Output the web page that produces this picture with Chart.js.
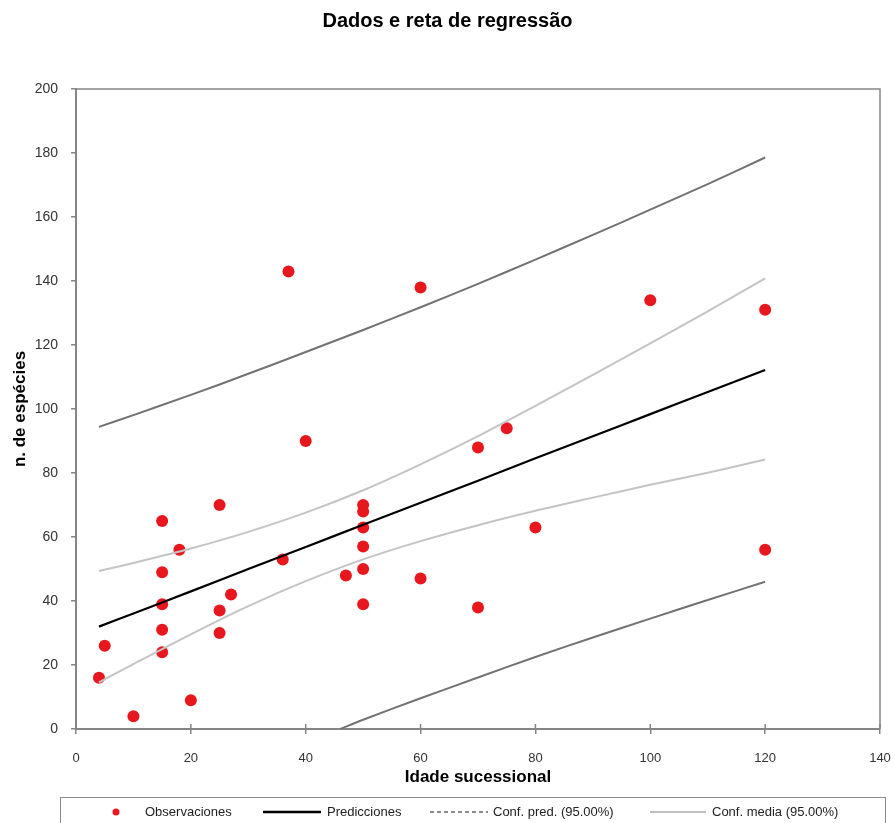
<!DOCTYPE html>
<html>
<head>
<meta charset="utf-8">
<script src="https://cdn.jsdelivr.net/npm/chart.js@4.4.1/dist/chart.umd.min.js"></script>
<style>
  html, body { margin: 0; padding: 0; background: #ffffff; }
  #wrap { width: 895px; height: 823px; position: relative; }
</style>
</head>
<body>
<div id="wrap"><canvas id="c"></canvas></div>
<script>
// ---- Data ----
const obsX = [4, 5, 10, 15, 15, 15, 15, 15, 18, 20, 25, 25, 25, 27, 36, 37, 40, 47, 50, 50, 50, 50, 50, 50, 60, 60, 70, 70, 75, 80, 100, 120, 120];
const obsY = [16, 26, 4, 65, 49, 39, 31, 24, 56, 9, 70, 37, 30, 42, 53, 143, 90, 48, 70, 68, 63, 57, 50, 39, 138, 47, 88, 38, 94, 63, 134, 131, 56];

const fitX       = [4, 10, 20, 30, 40, 50, 60, 70, 80, 90, 100, 110, 120];
const predLine   = [32.0, 36.1, 43.0, 50.0, 56.9, 63.8, 70.7, 77.6, 84.6, 91.5, 98.4, 105.3, 112.2];
const predUpper  = [94.4, 98.1, 104.4, 111.0, 117.8, 124.7, 131.8, 139.1, 146.7, 154.4, 162.3, 170.3, 178.6];
const meanUpper  = [49.4, 51.9, 56.4, 61.6, 67.6, 74.6, 82.7, 91.5, 101.0, 110.7, 120.5, 130.5, 140.8];
const meanLower  = [14.6, 20.3, 29.6, 38.4, 46.2, 53.0, 58.7, 63.7, 68.2, 72.3, 76.3, 80.1, 84.2];
const predLowerX = [46, 50, 60, 70, 80, 90, 100, 110, 120];
const predLower  = [0, 2.9, 9.6, 16.1, 22.5, 28.6, 34.5, 40.3, 46.0];

const xTicks = [0, 20, 40, 60, 80, 100, 120, 140];
const yTicks = [0, 20, 40, 60, 80, 100, 120, 140, 160, 180, 200];

const titleText = 'Dados e reta de regressão';
const xTitle = 'Idade sucessional';
const yTitle = 'n. de espécies';
const legendLabels = ['Observaciones', 'Predicciones', 'Conf. pred. (95.00%)', 'Conf. media (95.00%)'];

// ---- Styles ----
const RED = '#e8161d';
const AXIS = '#858585';
const FONT = "'Liberation Sans', Arial, sans-serif";

const pts = (xs, ys) => xs.map((x, i) => ({ x: x, y: ys[i] }));

const framePlugin = {
  id: 'frame',
  afterDraw(chart) {
    const { ctx, chartArea: a, scales } = chart;
    ctx.save();
    // top & right frame
    ctx.strokeStyle = AXIS;
    ctx.lineWidth = 1.5;
    ctx.beginPath();
    ctx.moveTo(a.left, a.top);
    ctx.lineTo(a.right, a.top);
    ctx.lineTo(a.right, a.bottom);
    ctx.stroke();
    // inner part of x ticks (ticks cross the axis)
    scales.x.ticks.forEach(t => {
      const px = scales.x.getPixelForValue(t.value);
      ctx.beginPath();
      ctx.moveTo(px, a.bottom - 5);
      ctx.lineTo(px, a.bottom);
      ctx.stroke();
    });
    // legend box
    const L = 60, R = 885, T = 797;
    ctx.strokeStyle = '#8a8a8a';
    ctx.lineWidth = 1;
    ctx.strokeRect(L + 0.5, T + 0.5, R - L, 40);
    const cy = 812;
    ctx.font = '13px ' + FONT;
    ctx.textBaseline = 'middle';
    ctx.textAlign = 'left';
    // Observaciones
    ctx.fillStyle = RED;
    ctx.beginPath();
    ctx.arc(116, cy, 3.5, 0, Math.PI * 2);
    ctx.fill();
    ctx.fillStyle = '#222';
    ctx.fillText(legendLabels[0], 145, cy);
    // Predicciones
    ctx.strokeStyle = '#000';
    ctx.lineWidth = 2.5;
    ctx.beginPath(); ctx.moveTo(263, cy); ctx.lineTo(321, cy); ctx.stroke();
    ctx.fillText(legendLabels[1], 327, cy);
    // Conf. pred
    ctx.strokeStyle = '#666';
    ctx.lineWidth = 1.5;
    ctx.setLineDash([4, 3]);
    ctx.beginPath(); ctx.moveTo(430, cy); ctx.lineTo(488, cy); ctx.stroke();
    ctx.setLineDash([]);
    ctx.fillText(legendLabels[2], 493, cy);
    // Conf. media
    ctx.strokeStyle = '#c0c0c0';
    ctx.lineWidth = 2;
    ctx.beginPath(); ctx.moveTo(650, cy); ctx.lineTo(706, cy); ctx.stroke();
    ctx.fillText(legendLabels[3], 712, cy);
    ctx.restore();
  }
};

const lineDs = (label, data, color, width) => ({
  label: label,
  data: data,
  showLine: true,
  borderColor: color,
  borderWidth: width,
  pointRadius: 0,
  pointHoverRadius: 0,
  fill: false,
  tension: 0.3,
  clip: 0
});

new Chart(document.getElementById('c'), {
  type: 'scatter',
  data: {
    datasets: [
      lineDs('Conf. pred. sup', pts(fitX, predUpper), '#727272', 2),
      lineDs('Conf. pred. inf', pts(predLowerX, predLower), '#727272', 2),
      lineDs('Conf. media sup', pts(fitX, meanUpper), '#c4c4c4', 2),
      lineDs('Conf. media inf', pts(fitX, meanLower), '#c4c4c4', 2),
      lineDs(legendLabels[1], pts(fitX, predLine), '#000000', 2.2),
      {
        label: legendLabels[0],
        data: pts(obsX, obsY),
        pointRadius: 6,
        pointHoverRadius: 6,
        backgroundColor: RED,
        borderColor: RED,
        borderWidth: 0,
        clip: false
      }
    ]
  },
  options: {
    responsive: true,
    maintainAspectRatio: false,
    animation: false,
    layout: { padding: { left: 0, right: 0, top: 0, bottom: 30 } },
    plugins: {
      legend: { display: false },
      tooltip: { enabled: false },
      title: {
        display: true,
        text: titleText,
        color: '#000',
        font: { family: FONT, size: 20, weight: 'bold' },
        padding: { top: 9, bottom: 56 }
      }
    },
    scales: {
      x: {
        type: 'linear',
        min: 0, max: 140,
        afterBuildTicks: s => { s.ticks = xTicks.map(v => ({ value: v })); },
        afterFit: s => { s.height = 64; s.paddingLeft = 0; s.paddingRight = 15; },
        grid: { display: true, drawOnChartArea: false, drawTicks: true, tickLength: 5, color: AXIS, lineWidth: 1.5 },
        border: { display: true, color: AXIS, width: 2 },
        ticks: { color: '#333', font: { family: FONT, size: 13 }, padding: 17, maxRotation: 0 },
        title: { display: true, text: xTitle, color: '#000', font: { family: FONT, size: 17, weight: 'bold' }, padding: { top: 0, bottom: 5 } }
      },
      y: {
        type: 'linear',
        min: 0, max: 200,
        afterBuildTicks: s => { s.ticks = yTicks.map(v => ({ value: v })); },
        afterFit: s => { s.width = 76; s.paddingTop = 0; s.paddingBottom = 0; },
        grid: { display: true, drawOnChartArea: false, drawTicks: true, tickLength: 5, color: AXIS, lineWidth: 1.5 },
        border: { display: true, color: AXIS, width: 2 },
        ticks: { color: '#333', font: { family: FONT, size: 14 }, padding: 13 },
        title: { display: true, text: yTitle, color: '#000', font: { family: FONT, size: 17, weight: 'bold' }, padding: { top: 10, bottom: 0 } }
      }
    }
  },
  plugins: [framePlugin]
});
</script>
</body>
</html>
